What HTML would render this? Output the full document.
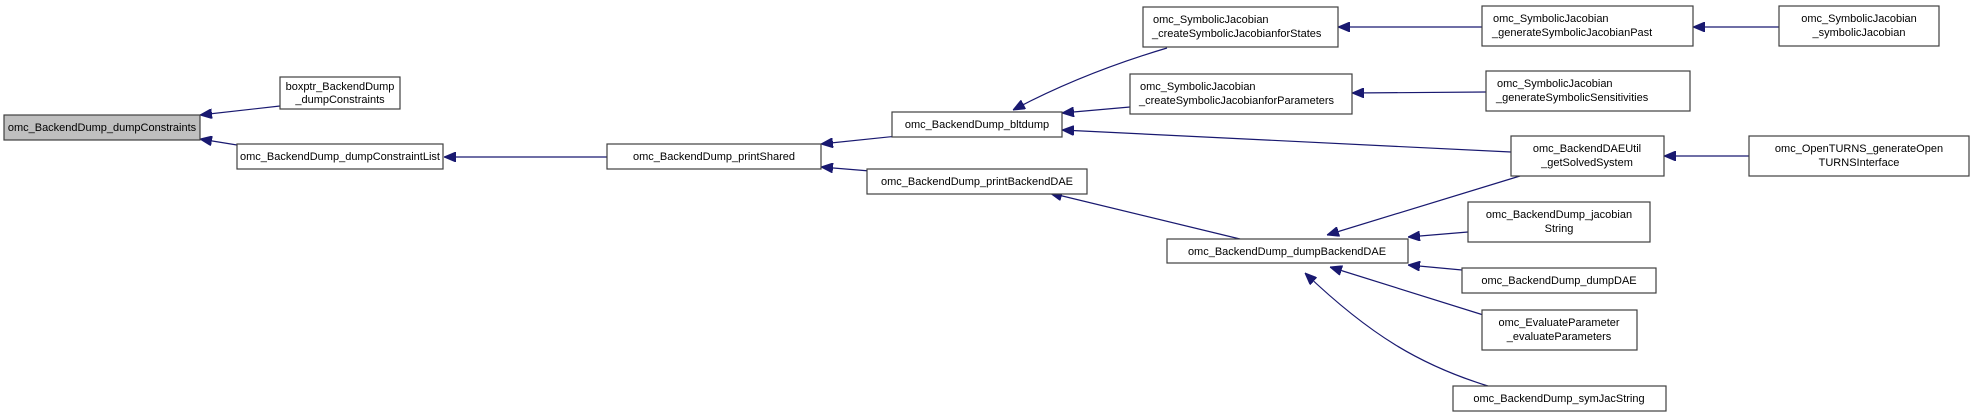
<!DOCTYPE html>
<html><head><meta charset="utf-8"><style>
html,body{margin:0;padding:0;background:#fff;}
svg{display:block;}
text{font-family:"Liberation Sans",Arial,sans-serif;font-size:11px;fill:#000;}
rect{fill:#fff;stroke:#404040;stroke-width:1.2;}
.e{stroke:#191970;stroke-width:1.2;fill:none;}
</style></head><body>
<svg width="1975" height="417" viewBox="0 0 1975 417" xmlns="http://www.w3.org/2000/svg">
<defs>
<marker id="a" markerUnits="userSpaceOnUse" markerWidth="12" markerHeight="10" refX="12" refY="5" orient="auto">
<path d="M0,0 L12,5 L0,10 z" fill="#191970" stroke="#191970"/>
</marker>
</defs>
<line class="e" x1="280" y1="106" x2="200" y2="115" marker-end="url(#a)"/>
<line class="e" x1="237" y1="145" x2="200" y2="139" marker-end="url(#a)"/>
<line class="e" x1="607" y1="157" x2="444" y2="157" marker-end="url(#a)"/>
<line class="e" x1="898" y1="136" x2="821" y2="144" marker-end="url(#a)"/>
<line class="e" x1="870" y1="171" x2="821" y2="167" marker-end="url(#a)"/>
<path class="e" d="M1167,48 C1110,65 1060,85 1013,110" marker-end="url(#a)"/>
<line class="e" x1="1130" y1="107" x2="1062" y2="113" marker-end="url(#a)"/>
<line class="e" x1="1511" y1="152" x2="1062" y2="130" marker-end="url(#a)"/>
<line class="e" x1="1482" y1="27" x2="1338" y2="27" marker-end="url(#a)"/>
<line class="e" x1="1779" y1="27" x2="1693" y2="27" marker-end="url(#a)"/>
<line class="e" x1="1486" y1="92" x2="1352" y2="93" marker-end="url(#a)"/>
<line class="e" x1="1749" y1="156" x2="1664" y2="156" marker-end="url(#a)"/>
<line class="e" x1="1520" y1="176" x2="1327" y2="235" marker-end="url(#a)"/>
<line class="e" x1="1240" y1="239" x2="1050" y2="193" marker-end="url(#a)"/>
<line class="e" x1="1468" y1="232" x2="1408" y2="237" marker-end="url(#a)"/>
<line class="e" x1="1462" y1="270" x2="1408" y2="265" marker-end="url(#a)"/>
<line class="e" x1="1493" y1="318" x2="1330" y2="267" marker-end="url(#a)"/>
<path class="e" d="M1488,386 C1420,365 1370,335 1305,273" marker-end="url(#a)"/>

<rect x="4" y="115" width="196" height="25" style="fill:#bfbfbf"/>
<text x="102" y="131" text-anchor="middle">omc_BackendDump_dumpConstraints</text>

<rect x="280" y="77" width="120" height="32"/>
<text x="340" y="90" text-anchor="middle">boxptr_BackendDump</text>
<text x="340" y="103" text-anchor="middle">_dumpConstraints</text>

<rect x="237" y="144" width="206" height="25"/>
<text x="340" y="160" text-anchor="middle">omc_BackendDump_dumpConstraintList</text>

<rect x="607" y="144" width="214" height="25"/>
<text x="714" y="160" text-anchor="middle">omc_BackendDump_printShared</text>

<rect x="892" y="112" width="170" height="25"/>
<text x="977" y="128" text-anchor="middle">omc_BackendDump_bltdump</text>

<rect x="867" y="169" width="220" height="25"/>
<text x="977" y="185" text-anchor="middle">omc_BackendDump_printBackendDAE</text>

<rect x="1143" y="7" width="195" height="40"/>
<text x="1153" y="23">omc_SymbolicJacobian</text>
<text x="1152" y="37">_createSymbolicJacobianforStates</text>

<rect x="1130" y="74" width="222" height="40"/>
<text x="1140" y="90">omc_SymbolicJacobian</text>
<text x="1139" y="104">_createSymbolicJacobianforParameters</text>

<rect x="1482" y="6" width="211" height="40"/>
<text x="1493" y="22">omc_SymbolicJacobian</text>
<text x="1492" y="36">_generateSymbolicJacobianPast</text>

<rect x="1779" y="6" width="160" height="40"/>
<text x="1859" y="22" text-anchor="middle">omc_SymbolicJacobian</text>
<text x="1859" y="36" text-anchor="middle">_symbolicJacobian</text>

<rect x="1486" y="71" width="204" height="40"/>
<text x="1497" y="87">omc_SymbolicJacobian</text>
<text x="1496" y="101">_generateSymbolicSensitivities</text>

<rect x="1511" y="136" width="153" height="40"/>
<text x="1587" y="152" text-anchor="middle">omc_BackendDAEUtil</text>
<text x="1587" y="166" text-anchor="middle">_getSolvedSystem</text>

<rect x="1749" y="136" width="220" height="40"/>
<text x="1859" y="152" text-anchor="middle">omc_OpenTURNS_generateOpen</text>
<text x="1859" y="166" text-anchor="middle">TURNSInterface</text>

<rect x="1167" y="239" width="241" height="24"/>
<text x="1287" y="255" text-anchor="middle">omc_BackendDump_dumpBackendDAE</text>

<rect x="1468" y="202" width="182" height="40"/>
<text x="1559" y="218" text-anchor="middle">omc_BackendDump_jacobian</text>
<text x="1559" y="232" text-anchor="middle">String</text>

<rect x="1462" y="268" width="194" height="25"/>
<text x="1559" y="284" text-anchor="middle">omc_BackendDump_dumpDAE</text>

<rect x="1482" y="310" width="155" height="40"/>
<text x="1559" y="326" text-anchor="middle">omc_EvaluateParameter</text>
<text x="1559" y="340" text-anchor="middle">_evaluateParameters</text>

<rect x="1453" y="386" width="213" height="25"/>
<text x="1559" y="402" text-anchor="middle">omc_BackendDump_symJacString</text>
</svg>
</body></html>
